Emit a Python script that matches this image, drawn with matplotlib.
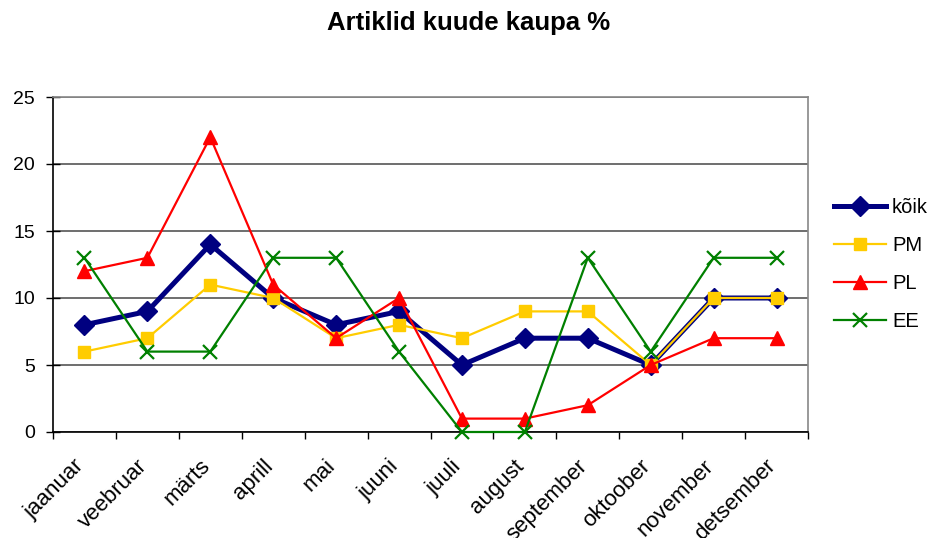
import matplotlib
matplotlib.use("Agg")
import matplotlib.pyplot as plt
import matplotlib.transforms as mtransforms
import numpy as np

plt.rcParams['font.family'] = ['Liberation Sans', 'DejaVu Sans']

months = ["jaanuar", "veebruar", "märts", "aprill", "mai", "juuni", "juuli",
          "august", "september", "oktoober", "november", "detsember"]
koik = [8, 9, 14, 10, 8, 9, 5, 7, 7, 5, 10, 10]
pm = [6, 7, 11, 10, 7, 8, 7, 9, 9, 5, 10, 10]
pl = [12, 13, 22, 11, 7, 10, 1, 1, 2, 5, 7, 7]
ee = [13, 6, 6, 13, 13, 6, 0, 0, 13, 6, 13, 13]
yticks = [0, 5, 10, 15, 20, 25]

fig = plt.figure(figsize=(9.38, 5.38), dpi=100)
ax = fig.add_axes([53/938, 1-432/538, (808-53)/938, (432-97)/538])

x = np.arange(len(months))
ax.plot(x, koik, color='#000080', lw=3.6, marker='D', ms=10, label='kõik', zorder=3, clip_on=False)
ax.plot(x, pm, color='#FFCC00', lw=1.6, marker='s', ms=9, label='PM', zorder=4, clip_on=False)
ax.plot(x, pl, color='#FF0000', lw=1.6, marker='^', ms=10, label='PL', zorder=5, clip_on=False)
ax.plot(x, ee, color='#008000', lw=1.6, marker='x', ms=10, mew=1.6, label='EE', zorder=6, clip_on=False)

ax.set_xlim(-0.5, len(months)-0.5)
ax.set_ylim(0, 25)
ax.set_yticks(yticks)
ax.tick_params(axis='y', labelsize=14, direction='inout', length=10, width=1, pad=8)
ax.set_xticks(np.arange(-0.5, len(months)), minor=False)
ax.set_xticklabels([])
ax.set_xticks(x, minor=True)
ax.set_xticklabels(months, minor=True, rotation=45, ha='right', va='top',
                   rotation_mode='anchor', fontsize=16)
ax.tick_params(axis='x', which='major', direction='out', length=5, width=1)
ax.tick_params(axis='x', which='minor', length=0, pad=17)
offset = mtransforms.ScaledTranslation(-11/100, 0, fig.dpi_scale_trans)
for lbl in ax.get_xticklabels(minor=True):
    lbl.set_transform(lbl.get_transform() + offset)
ax.grid(axis='y', color='#555555', lw=1.2)
ax.set_axisbelow(True)
for s in ['top', 'right']:
    ax.spines[s].set_color('#888888')
    ax.spines[s].set_linewidth(1.2)
for s in ['left', 'bottom']:
    ax.spines[s].set_color('black')
    ax.spines[s].set_linewidth(1.2)

fig.text(0.5, 1-23/538, "Artiklid kuude kaupa %", ha='center', va='center',
         fontsize=18.5, fontweight='bold')

leg = ax.legend(loc='center left', bbox_to_anchor=(1.01, 0.5), frameon=False,
                fontsize=14.5, handlelength=2.6, labelspacing=0.95, handletextpad=0.3)

fig.savefig("out.png", dpi=100)
